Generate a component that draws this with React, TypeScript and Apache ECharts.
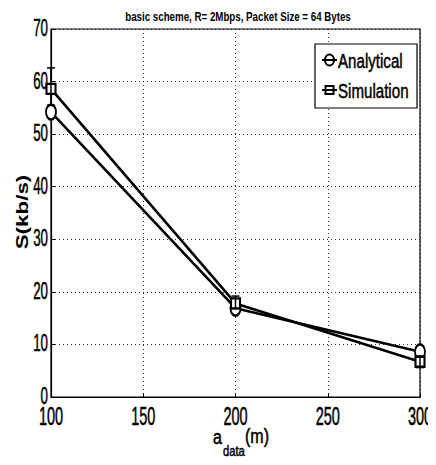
import React, { useEffect, useRef } from "react";
import * as echarts from "echarts";

const xValues = [100, 200, 300];
const analytical = [54.2, 16.9, 8.6];
const simulation = [58.6, 17.8, 6.7];
const simErrLow = [55.5, 16.8, 5.6];
const simErrHigh = [62.6, 19.2, 7.8];
const xTicks = [100, 150, 200, 250, 300];
const yTicks = [0, 10, 20, 30, 40, 50, 60, 70];
const seriesNames = ["Analytical", "Simulation"];
const titleText = "basic scheme, R= 2Mbps, Packet Size = 64 Bytes";
const yTitle = "S(kb/s)";

const FONT = "'Liberation Sans', Arial, sans-serif";
const ELLIPSE = "path://M5,0 A5,7.5 0 1 1 5,15 A5,7.5 0 1 1 5,0 Z";
const NARROW = 0.58;

export default function App() {
  const ref = useRef<HTMLDivElement>(null);
  useEffect(() => {
    const chart = echarts.init(ref.current!, null, { renderer: "svg" });
    const errData = xValues.map((x, i) => [x, simErrLow[i], simErrHigh[i]]);
    const gridLine = { show: true, lineStyle: { color: "#000", type: [1, 3], width: 0.8 } };
    const txt = (text: string, size: number) => ({
      text,
      font: `${size}px ${FONT}`,
      fill: "#000",
      stroke: "#000",
      lineWidth: 0.5,
      verticalAlign: "middle",
    });
    chart.setOption({
      animation: false,
      backgroundColor: "#fff",
      grid: {
        left: 51,
        right: 16,
        top: 29,
        bottom: 68,
        containLabel: false,
        outerBoundsMode: "none",
        show: true,
        borderColor: "#000",
        borderWidth: 1.2,
        backgroundColor: "transparent",
      },
      xAxis: {
        type: "value",
        min: 100,
        max: 300,
        interval: 50,
        axisLine: { show: true, lineStyle: { color: "#000", width: 1.2 } },
        axisTick: { show: true, inside: true, length: 4, lineStyle: { color: "#000" } },
        axisLabel: { show: false },
        splitLine: gridLine,
      },
      yAxis: {
        type: "value",
        min: 0,
        max: 70,
        interval: 10,
        axisLine: { show: true, lineStyle: { color: "#000", width: 1.2 } },
        axisTick: { show: true, inside: true, length: 4, lineStyle: { color: "#000" } },
        axisLabel: { show: false },
        splitLine: gridLine,
      },
      graphic: [
        {
          type: "text",
          x: 238,
          y: 17,
          scaleX: 0.78,
          style: {
            text: titleText,
            font: `bold 12.5px ${FONT}`,
            fill: "#000",
            align: "center",
            verticalAlign: "middle",
          },
        },
        {
          type: "text",
          x: 22,
          y: 212,
          rotation: Math.PI / 2,
          scaleX: 1.4,
          style: {
            text: yTitle,
            font: `bold 16px ${FONT}`,
            fill: "#000",
            align: "center",
            verticalAlign: "middle",
          },
        },
        { type: "text", x: 213, y: 437, scaleX: 0.8, style: txt("a", 20) },
        { type: "text", x: 223, y: 452, scaleX: 0.8, style: txt("data", 14) },
        { type: "text", x: 245, y: 436, scaleX: 0.8, style: txt("(m)", 20) },
        // legend
        { type: "rect", shape: { x: 315, y: 44, width: 102, height: 64 }, style: { fill: "#fff", stroke: "#000", lineWidth: 1.2 }, z: 10 },
        { type: "line", shape: { x1: 322, y1: 60, x2: 337, y2: 60 }, style: { stroke: "#000", lineWidth: 2 }, z: 11 },
        { type: "ellipse", shape: { cx: 329.5, cy: 60, rx: 4.5, ry: 5.5 }, style: { fill: "none", stroke: "#000", lineWidth: 2 }, z: 11 },
        { type: "text", x: 338, y: 61, scaleX: 0.72, z: 11, style: txt(seriesNames[0], 21) },
        { type: "line", shape: { x1: 322, y1: 90, x2: 337, y2: 90 }, style: { stroke: "#000", lineWidth: 2 }, z: 11 },
        { type: "rect", shape: { x: 325.5, y: 86, width: 8, height: 8 }, style: { fill: "none", stroke: "#000", lineWidth: 2 }, z: 11 },
        { type: "text", x: 338, y: 91, scaleX: 0.72, z: 11, style: txt(seriesNames[1], 21) },
      ],
      series: [
        {
          name: seriesNames[0],
          type: "line",
          data: xValues.map((x, i) => [x, analytical[i]]),
          symbol: ELLIPSE,
          symbolSize: [10, 15],
          itemStyle: { color: "#fff", borderColor: "#000", borderWidth: 2.2 },
          lineStyle: { color: "#000", width: 2.6 },
          z: 3,
        },
        {
          name: seriesNames[1],
          type: "line",
          data: xValues.map((x, i) => [x, simulation[i]]),
          symbol: "rect",
          symbolSize: [9, 10],
          itemStyle: { color: "#fff", borderColor: "#000", borderWidth: 2.2 },
          lineStyle: { color: "#000", width: 2.6 },
          z: 3,
        },
        {
          name: "err",
          type: "custom",
          data: errData,
          z: 4,
          renderItem: (params: any, api: any) => {
            const x = api.value(0);
            const lo = api.coord([x, api.value(1)]);
            const hi = api.coord([x, api.value(2)]);
            const hw = 4;
            const st = { stroke: "#000", lineWidth: 1.5 };
            return {
              type: "group",
              children: [
                { type: "line", shape: { x1: lo[0], y1: lo[1], x2: hi[0], y2: hi[1] }, style: st },
                { type: "line", shape: { x1: hi[0] - hw, y1: hi[1], x2: hi[0] + hw, y2: hi[1] }, style: st },
                { type: "line", shape: { x1: lo[0] - hw, y1: lo[1], x2: lo[0] + hw, y2: lo[1] }, style: st },
              ],
            };
          },
        },
        {
          name: "xTickLabels",
          type: "custom",
          data: xTicks.map((v) => [v, 0]),
          silent: true,
          renderItem: (params: any, api: any) => {
            const p = api.coord([api.value(0), api.value(1)]);
            return {
              type: "text",
              x: p[0],
              y: p[1] + 7,
              scaleX: NARROW,
              style: { ...txt(String(api.value(0)), 25), align: "center", verticalAlign: "top" },
            };
          },
        },
        {
          name: "yTickLabels",
          type: "custom",
          data: yTicks.map((v) => [100, v]),
          silent: true,
          renderItem: (params: any, api: any) => {
            const p = api.coord([api.value(0), api.value(1)]);
            return {
              type: "text",
              x: p[0] - 3,
              y: p[1] - 1,
              scaleX: NARROW,
              style: { ...txt(String(api.value(1)), 23), align: "right" },
            };
          },
        },
      ],
    });
    return () => chart.dispose();
  }, []);
  return <div ref={ref} style={{ width: 436, height: 465, margin: -8 }} />;
}
